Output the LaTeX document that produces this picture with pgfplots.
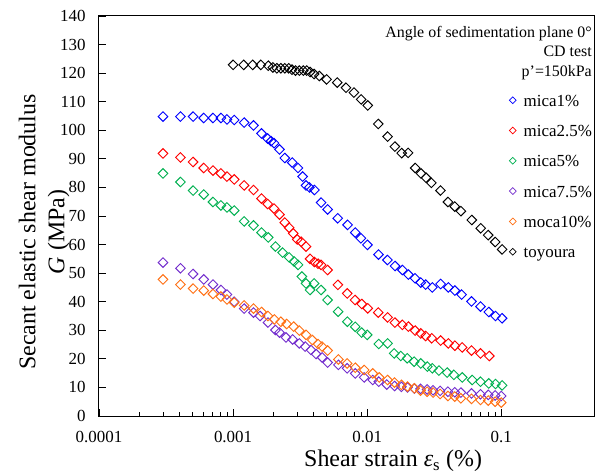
\documentclass[border=0pt]{standalone}
\usepackage{fontspec}
\setmainfont{Liberation Serif}
\usepackage{pgfplots}
\pgfplotsset{compat=1.18}
\definecolor{cblue}{RGB}{0,0,255}
\definecolor{cred}{RGB}{255,0,0}
\definecolor{cgreen}{RGB}{0,176,80}
\definecolor{cpurple}{RGB}{115,45,205}
\definecolor{corange}{RGB}{255,112,20}
\pgfdeclareplotmark{sqdiamond}{%
  \pgfpathmoveto{\pgfqpoint{0pt}{\pgfplotmarksize}}%
  \pgfpathlineto{\pgfqpoint{\pgfplotmarksize}{0pt}}%
  \pgfpathlineto{\pgfqpoint{0pt}{-\pgfplotmarksize}}%
  \pgfpathlineto{\pgfqpoint{-\pgfplotmarksize}{0pt}}%
  \pgfpathclose
  \pgfusepathqstroke
}
\begin{document}
\begin{tikzpicture}
\begin{axis}[
  width=496bp, height=400bp, scale only axis,
  xmode=log, xmin=0.0001, xmax=0.5, ymin=0, ymax=140,
  xtick={0.0001,0.001,0.01,0.1}, xticklabels={0.0001,0.001,0.01,0.1},
  ytick={0,10,...,140},
  tick pos=left, tick align=inside,
  major tick length=7bp, minor tick length=4bp,
  every tick/.style={black, line width=0.8bp},
  axis line style={line width=1bp},
  ticklabel style={font=\fontsize{17}{20}\selectfont},
  xticklabel style={yshift=-12bp},
  yticklabel style={xshift=-10bp},
  /pgf/number format/assume math mode=true,
  xlabel={Shear strain \textit{ε}\textsubscript{s} (\%)},
  xlabel style={font=\fontsize{24}{29}\selectfont, at={(rel axis cs:0.593,-0.076)}, anchor=north},
  ylabel={Secant elastic shear modulus\\\textit{G} (MPa)},
  ylabel style={font=\fontsize{24}{29}\selectfont, align=center, at={(rel axis cs:-0.0524,0.46)}, anchor=south},
  every axis plot/.append style={only marks, mark=sqdiamond, mark size=4.8bp, line width=0.95bp},
  legend image code/.code={\draw[#1, mark size=3.4bp, line width=0.7bp] plot coordinates {(0bp,2bp)};},
  legend cell align=left,
  legend style={draw=none, fill=none, inner sep=0pt, at={(rel axis cs:0.827,0.8075)}, anchor=north west,
    font=\fontsize{17}{20}\selectfont, row sep=12.3bp, column sep=6.5bp,
    nodes={inner sep=1bp, text height=12bp, text depth=4bp}},
]
\coordinate (sw) at (rel axis cs:0,0);
\addplot[cblue] coordinates {
(0.0003,104.8)(0.000405,104.8)(0.000503,104.8)(0.000604,104.3)(0.000708,104.3)(0.000811,104.3)
(0.0009,103.8)(0.00102,103.6)(0.00121,102.7)(0.00142,101.7)(0.00163,98.9)(0.00181,97.1)
(0.00192,96.2)(0.00202,95.5)(0.00222,93.3)(0.00243,90.3)(0.00276,88.7)(0.00305,86.8)
(0.0033,83.8)(0.0035,80.7)(0.00371,80.0)(0.00404,79.1)(0.00453,74.7)(0.00507,72.3)
(0.00603,69.2)(0.00714,66.9)(0.00815,64.2)(0.00898,62.2)(0.01005,59.9)(0.01214,56.5)
(0.01416,54.6)(0.01615,52.5)(0.01831,51.1)(0.0203,49.5)(0.02275,48.2)(0.0251,46.7)
(0.0273,46.0)(0.0306,45.0)(0.0353,46.2)(0.0403,45.0)(0.0451,43.9)(0.0506,42.5)
(0.0600,40.1)(0.0700,38.3)(0.0807,36.4)(0.0906,35.0)(0.1014,34.2)
};
\addlegendentry{mica1\%}
\addplot[cred] coordinates {
(0.0003,91.9)(0.000405,90.5)(0.000503,88.9)(0.000604,86.8)(0.000708,85.9)(0.000811,84.9)
(0.0009,83.8)(0.00102,82.8)(0.00121,80.7)(0.00142,79.1)(0.00163,76.1)(0.00181,74.2)
(0.00202,72.6)(0.00222,70.5)(0.00243,67.7)(0.00262,65.9)(0.00281,63.9)(0.00301,61.8)
(0.00322,61.0)(0.00350,59.3)(0.00375,55.0)(0.00404,53.9)(0.00430,53.3)(0.00453,52.9)
(0.00507,51.1)(0.00605,45.9)(0.00710,42.9)(0.00812,40.6)(0.00912,39.2)(0.0101,37.7)
(0.0121,36.2)(0.0142,34.5)(0.0161,32.7)(0.0183,31.9)(0.0203,31.3)(0.0228,29.9)
(0.0251,28.9)(0.0273,28.0)(0.0303,27.2)(0.0353,26.4)(0.0403,25.4)(0.0451,24.6)
(0.0511,24.0)(0.0600,22.9)(0.0700,21.9)(0.0814,21.0)
};
\addlegendentry{mica2.5\%}
\addplot[cgreen] coordinates {
(0.0003,84.9)(0.000405,81.9)(0.000503,78.9)(0.000604,77.5)(0.000708,74.9)(0.000811,73.7)
(0.0009,73.0)(0.00102,71.9)(0.00121,68.1)(0.00142,66.7)(0.00163,64.2)(0.00183,62.5)
(0.00207,59.3)(0.00234,57.2)(0.00262,55.5)(0.00285,54.1)(0.00305,52.9)(0.00326,48.8)
(0.00350,46.4)(0.00375,44.1)(0.00402,46.4)(0.00453,44.1)(0.00507,40.6)(0.00607,36.5)
(0.00712,33.0)(0.00815,31.2)(0.00910,29.2)(0.0100,28.4)(0.0122,25.2)(0.0142,25.4)
(0.0159,21.9)(0.0178,21.0)(0.0199,20.2)(0.0224,19.0)(0.0251,18.4)(0.0281,17.3)
(0.0306,16.7)(0.0343,15.9)(0.0395,15.2)(0.0443,14.4)(0.0512,13.5)(0.0607,12.6)
(0.0700,12.0)(0.0807,11.4)(0.0906,11.2)(0.1014,10.7)
};
\addlegendentry{mica5\%}
\addplot[cpurple] coordinates {
(0.0003,53.7)(0.000405,51.7)(0.000503,49.7)(0.000604,47.8)(0.000708,46.0)(0.000811,44.1)
(0.0009,42.5)(0.00102,40.0)(0.00121,37.6)(0.00142,36.2)(0.00159,35.0)(0.00182,32.7)
(0.00207,30.1)(0.00222,29.2)(0.00248,27.5)(0.00278,26.8)(0.00312,25.4)(0.00345,24.3)
(0.00381,23.1)(0.00416,21.7)(0.00461,20.5)(0.00507,18.7)(0.00610,17.9)(0.00709,16.7)
(0.00815,14.9)(0.0095,13.5)(0.0110,12.6)(0.0122,12.0)(0.0140,11.0)(0.0160,10.5)
(0.0180,10.2)(0.0200,10.0)(0.0225,9.6)(0.0250,9.5)(0.0280,9.3)(0.0310,9.0)
(0.0350,8.8)(0.0400,8.5)(0.0450,8.3)(0.0500,8.2)(0.0600,7.9)(0.0700,7.6)
(0.0800,7.4)(0.0900,7.2)(0.1000,7.0)
};
\addlegendentry{mica7.5\%}
\addplot[corange] coordinates {
(0.0003,47.8)(0.000405,46.0)(0.000503,44.6)(0.000604,43.9)(0.000708,42.7)(0.000811,41.8)
(0.0009,40.8)(0.00102,39.7)(0.00121,38.7)(0.00142,37.6)(0.00163,36.4)(0.00182,35.0)
(0.00203,33.8)(0.00227,33.0)(0.00251,32.2)(0.00283,31.3)(0.00312,29.9)(0.0035,28.4)
(0.0039,26.6)(0.0043,25.2)(0.00461,24.3)(0.00507,22.9)(0.0061,19.8)(0.00709,18.4)
(0.00815,16.9)(0.0095,16.1)(0.0110,14.9)(0.0123,13.5)(0.0142,12.6)(0.0160,11.7)
(0.0180,10.9)(0.0200,10.3)(0.0225,9.7)(0.0250,8.9)(0.0280,8.5)(0.0310,8.2)
(0.0350,7.7)(0.0400,7.0)(0.0450,6.8)(0.0500,6.2)(0.0600,6.0)(0.0700,5.6)
(0.0800,5.4)(0.0900,5.0)(0.1000,4.7)
};
\addlegendentry{moca10\%}
\addplot[black] coordinates {
(0.00100,122.9)(0.00120,122.9)(0.00140,122.9)(0.00161,122.9)(0.00183,122.6)(0.00198,122.0)
(0.00212,121.7)(0.00227,121.7)(0.00243,121.7)(0.00260,121.7)(0.00275,121.2)(0.00292,120.9)
(0.00312,120.9)(0.00334,120.9)(0.00354,120.9)(0.00375,120.4)(0.00402,119.7)(0.00440,119.0)
(0.00498,117.8)(0.00598,116.7)(0.00695,114.9)(0.00797,113.2)(0.00902,110.8)(0.0101,108.7)
(0.0121,102.2)(0.0142,97.8)(0.0161,94.3)(0.0181,92.0)(0.0202,92.1)(0.0228,86.8)
(0.0252,84.9)(0.0275,83.4)(0.0301,81.6)(0.0352,78.9)(0.0400,74.9)(0.0450,73.3)
(0.0500,71.7)(0.0603,68.6)(0.0703,65.7)(0.0799,63.3)(0.0900,60.9)(0.1014,58.3)
};
\addlegendentry{toyoura}
\node[anchor=north east, align=right, inner sep=0pt, font=\fontsize{16}{19.5}\selectfont]
  at (rel axis cs:0.994,0.975) {Angle of sedimentation plane 0°\\CD test\\p'=150kPa};
\end{axis}
\path (sw) ++(-99bp,-59bp) rectangle ++(598bp,475bp);
\end{tikzpicture}
\end{document}
